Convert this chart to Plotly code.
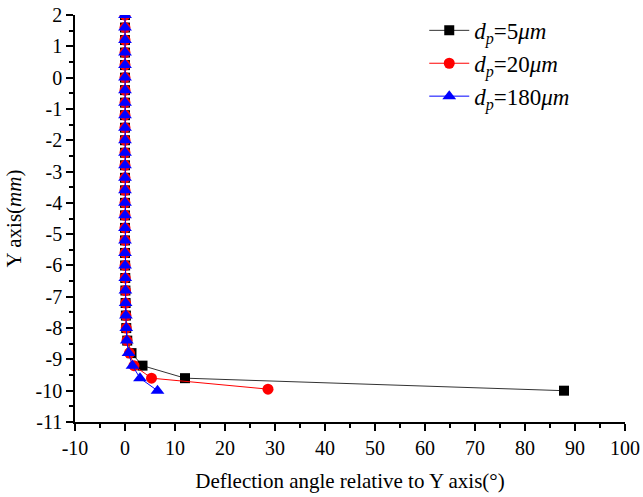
import plotly.graph_objects as go

# y positions (mm) shared by all series
y_vals = [2.0, 1.6, 1.2, 0.8, 0.4, 0.0, -0.4, -0.8, -1.2, -1.6, -2.0, -2.4, -2.8,
          -3.2, -3.6, -4.0, -4.4, -4.8, -5.2, -5.6, -6.0, -6.4, -6.8, -7.2, -7.6,
          -8.0, -8.4, -8.8, -9.2, -9.6, -10.0]

# deflection angles (deg)
x_5um = [0, 0, 0, 0, 0, 0, 0, 0, 0, 0, 0, 0, 0, 0, 0, 0, 0, 0, 0, 0,
         0.02, 0.05, 0.08, 0.12, 0.18, 0.25, 0.45, 1.3, 3.5, 12.0, 87.8]
x_20um = [0, 0, 0, 0, 0, 0, 0, 0, 0, 0, 0, 0, 0, 0, 0, 0, 0, 0, 0, 0,
          0.02, 0.05, 0.08, 0.12, 0.18, 0.25, 0.4, 0.9, 1.8, 5.3, 28.6]
x_180um = [0, 0, 0, 0, 0, 0, 0, 0, 0, 0, 0, 0, 0, 0, 0, 0, 0, 0, 0, 0,
           0.02, 0.05, 0.08, 0.12, 0.18, 0.25, 0.35, 0.7, 1.5, 3.0, 6.5]
y_20um_last = -9.95

names = ["<i>d</i><sub><i>p</i></sub>=5<i>μm</i>",
         "<i>d</i><sub><i>p</i></sub>=20<i>μm</i>",
         "<i>d</i><sub><i>p</i></sub>=180<i>μm</i>"]

x_tickvals = [-10, 0, 10, 20, 30, 40, 50, 60, 70, 80, 90, 100]
x_ticktext = ["-10", "0", "10", "20", "30", "40", "50", "60", "70", "80", "90", "100"]
y_tickvals = [2, 1, 0, -1, -2, -3, -4, -5, -6, -7, -8, -9, -10, -11]
y_ticktext = ["2", "1", "0", "-1", "-2", "-3", "-4", "-5", "-6", "-7", "-8", "-9", "-10", "-11"]

y_20um = y_vals[:-1] + [y_20um_last]

fig = go.Figure()
fig.add_trace(go.Scatter(x=x_5um, y=y_vals, name=names[0], mode="lines+markers",
                         line=dict(color="#333333", width=1),
                         marker=dict(symbol="square", size=10, color="black")))
fig.add_trace(go.Scatter(x=x_20um, y=y_20um, name=names[1], mode="lines+markers",
                         line=dict(color="red", width=1),
                         marker=dict(symbol="circle", size=11, color="red")))
fig.add_trace(go.Scatter(x=x_180um, y=y_vals, name=names[2], mode="lines+markers",
                         line=dict(color="blue", width=1),
                         marker=dict(symbol="triangle-up", size=12, color="blue")))

font_family = "Liberation Serif"
fig.update_layout(
    width=643, height=497,
    margin=dict(l=75, r=18, t=15, b=75, autoexpand=False),
    paper_bgcolor="white", plot_bgcolor="white",
    font=dict(family=font_family, size=20, color="black"),
    legend=dict(x=0.635, y=1.015, xanchor="left", yanchor="top",
                font=dict(family=font_family, size=23),
                bgcolor="rgba(0,0,0,0)", tracegroupgap=0, itemwidth=40),
    xaxis=dict(range=[-10, 100], tickvals=x_tickvals, ticktext=x_ticktext,
               showgrid=False, zeroline=False, automargin=False,
               showline=True, linecolor="black", linewidth=1.5,
               ticks="outside", ticklen=7, tickwidth=1.5, tickcolor="black",
               minor=dict(dtick=5, tick0=0, ticks="outside", ticklen=4, tickwidth=1.5, tickcolor="black"),
               tickfont=dict(size=20),
               title=dict(text="Deflection angle relative to Y axis(°)", font=dict(size=21), standoff=16)),
    yaxis=dict(range=[-11, 2], tickvals=y_tickvals, ticktext=y_ticktext,
               showgrid=False, zeroline=False, automargin=False,
               showline=True, linecolor="black", linewidth=1.5,
               ticks="outside", ticklen=7, tickwidth=1.5, tickcolor="black",
               minor=dict(dtick=0.5, tick0=0, ticks="outside", ticklen=4, tickwidth=1.5, tickcolor="black"),
               tickfont=dict(size=20),
               title=dict(text="Y axis(<i>mm</i>)", font=dict(size=21), standoff=8)),
)

fig.write_html("out.html")
